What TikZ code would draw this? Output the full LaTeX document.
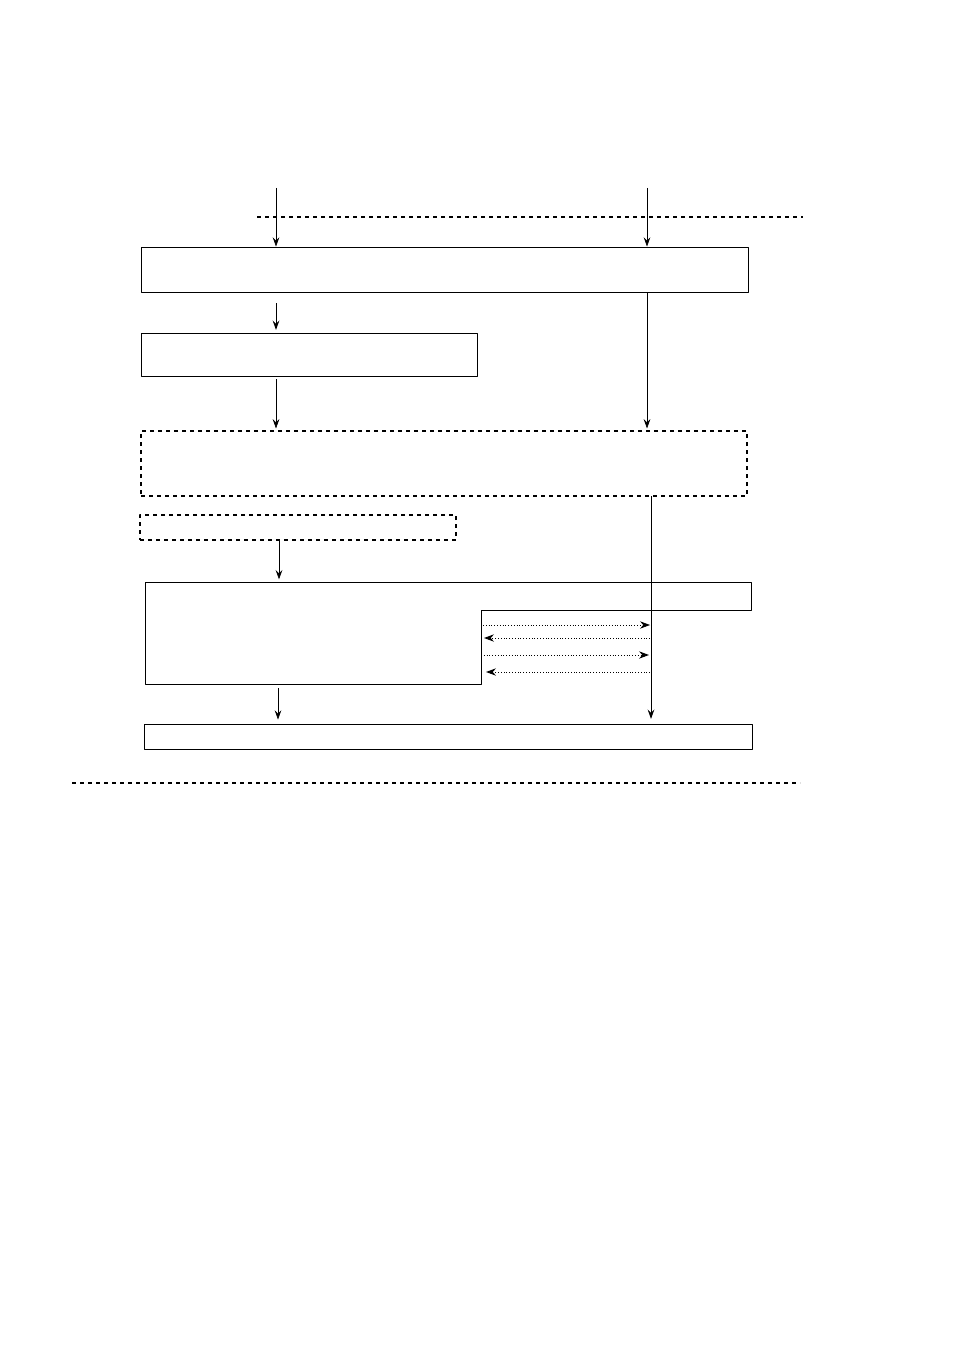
\documentclass[tikz,border=0pt]{standalone}
\usetikzlibrary{arrows.meta}
\tikzset{
	box/.style={draw,line width=.7pt,inner sep=0pt},
	dbox/.style={box,dashed,line width=.8pt},
	flow/.style={->,line width=.5pt},
	talk/.style={-{Stealth[length=7.5pt,width=5.5pt,inset=2.5pt]},dash pattern=on .6pt off 1.5pt,line width=.7pt}
}
\begin{document}
\begin{tikzpicture}[>={Stealth[length=7pt,width=5pt,inset=2.5pt]},line join=round,x=.75pt,y=-.75pt]
\useasboundingbox (0,0) rectangle (954,1351);
	% boundaries
	\draw[dashed,line width=.8pt] (257,217)--(803,217);
	\draw[dashed,line width=.8pt] (72,783)--(800,783);
	% boxes
	\node[box,minimum width=455.25pt,minimum height=33.75pt] (b1) at (444.5,269.5) {};
	\node[box,minimum width=252pt,minimum height=32.25pt] (b2) at (309,354.5) {};
	\node[dbox,minimum width=454.5pt,minimum height=48.75pt] (b3) at (444,463.5) {};
	\node[dbox,minimum width=237pt,minimum height=18.75pt] (b4) at (298,527.5) {};
	\node[box,minimum width=456pt,minimum height=18.75pt] (b6) at (448,736.5) {};
	\draw[box] (145,582) coordinate (b5) -| (751,610) -| (481,684) coordinate (b5s) -- (145,684) -- cycle;
	\coordinate (in1) at (276,188);
	\coordinate (in2) at (647,188);
	\coordinate (bus) at (651,496);
	% flows
	\draw[flow] (in1)--(b1.north -| in1);
	\draw[flow] (in2)--(b1.north -| in2);
	\draw[flow,shorten <=8pt,shorten >=2pt] (b1.south -| in1)--(b2.north -| in1);
	\draw[flow,shorten <=2pt,shorten >=1.5pt] (b2.south -| in1)--(b3.north -| in1);
	\draw[flow,shorten >=1.5pt] (b1.south -| in2)--(b3.north -| in2);
	\draw[flow,shorten >=3.5pt] (bus)--(b6.north -| bus);
	\draw[flow,shorten >=2pt] (b4.south -| 279,0)--(b5 -| 279,0);
	\draw[flow,shorten <=3pt,shorten >=3pt] (b5s -| 278,0)--(b6.north -| 278,0);
	% dialogue
	\draw[talk,line width=.5pt] (483,625)--(650,625);
	\draw[talk] (650,638)--(484,638);
	\draw[talk] (481,655)--(649,655);
	\draw[talk] (650,672)--(486,672);
\end{tikzpicture}
\end{document}
